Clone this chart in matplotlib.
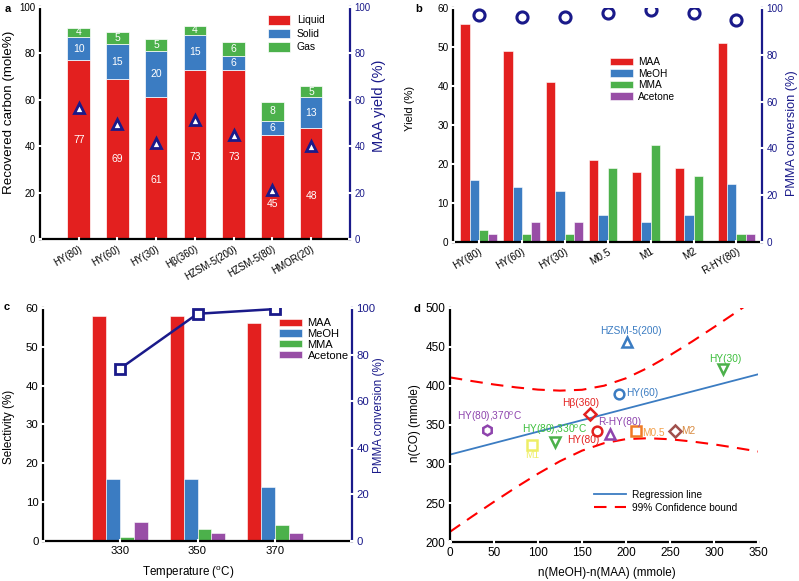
import matplotlib.pyplot as plt
import numpy as np

plt.rcParams['font.family'] = ['Liberation Sans', 'DejaVu Sans']
plt.rcParams['mathtext.default'] = 'regular'

RED = '#e3201f'
BLUE = '#3b7cc2'
GREEN = '#4cb14b'
PURPLE = '#984ea6'
NAVY = '#1a1a8a'

#%% data
# a - recovered carbon / MAA yield
cat_a = ['HY(80)', 'HY(60)', 'HY(30)', 'Hβ(360)', 'HZSM-5(200)', 'HZSM-5(80)', 'HMOR(20)']
liquid = [77, 69, 61, 73, 73, 45, 48]
solid = [10, 15, 20, 15, 6, 6, 13]
gas = [4, 5, 5, 4, 6, 8, 5]
maa_yield = [56.5, 49.5, 41.5, 51.5, 45, 21, 40]
liquid_label_y = [42.5, 34.5, 25.5, 35.5, 35.5, 15, 18.5]

# b - yield / PMMA conversion
cat_b = ['HY(80)', 'HY(60)', 'HY(30)', 'M0.5', 'M1', 'M2', 'R-HY(80)']
maa_b = [56, 49, 41, 21, 18, 19, 51]
meoh_b = [16, 14, 13, 7, 5, 7, 15]
mma_b = [3, 2, 2, 19, 25, 17, 2]
acetone_b = [2, 5, 5, 0, 0, 0, 2]
conv_b = [97, 96, 96, 98, 99, 98, 95]

# c - selectivity vs temperature
temps = ['330', '350', '370']
maa_c = [58, 58, 56]
meoh_c = [16, 16, 14]
mma_c = [1, 3, 4]
acetone_c = [5, 2, 2]
conv_c = [74, 97.5, 99.5]

# d - n(CO) vs n(MeOH)-n(MAA)
pt_names = ['HZSM-5(200)', 'HY(30)', 'HY(60)', 'Hβ(360)', 'HY(80),370$^{o}$C',
            'HY(80),330$^{o}$C', 'HY(80)', 'R-HY(80)', 'M0.5', 'M2', 'M1']
pt_x = [201, 310, 192, 159, 42, 119, 167, 182, 211, 255, 93]
pt_y = [456, 422, 390, 364, 344, 328, 342, 339, 342, 342, 324]
reg_x = [0, 350]
reg_y = [312, 415]
bound_x = [0, 25, 50, 75, 100, 125, 150, 175, 200, 225, 250, 275, 300, 325, 350]
bound_up = [411, 406.3, 401.9, 398.2, 395.3, 394.0, 395.1, 400.3, 409.9, 423.4, 439.5, 457.0, 475.5, 494.5, 514]
bound_lo = [213, 232.5, 251.5, 270.0, 287.5, 303.6, 317.1, 326.7, 331.9, 333.0, 331.7, 328.8, 325.1, 320.7, 316]

#%% helpers
def style(ax, right=None, fs=7.2):
    ax.set_axisbelow(False)
    for s in ['top', 'right']:
        ax.spines[s].set_visible(False)
    for s in ['left', 'bottom']:
        ax.spines[s].set_linewidth(1.6)
    ax.tick_params(direction='inout', length=2.5, width=1.5, color='white', labelsize=fs, pad=2)
    if right is not None:
        right.set_axisbelow(False)
        for s in ['top', 'left', 'bottom']:
            right.spines[s].set_visible(False)
        right.spines['right'].set_color(NAVY)
        right.spines['right'].set_linewidth(1.6)
        right.tick_params(direction='inout', length=2.5, width=1.5, color='white',
                          labelsize=fs, labelcolor=NAVY, pad=2)

def leg(ax, x, y, fs, hl, hh, ls, pad=0.55):
    ax.legend(loc='upper left', bbox_to_anchor=(x / 799, 1 - y / 581), bbox_transform=fig.transFigure,
              frameon=False, fontsize=fs, handlelength=hl, handleheight=hh, labelspacing=ls,
              handletextpad=pad, borderpad=0, borderaxespad=0)

fig = plt.figure(figsize=(7.99, 5.81), dpi=100)

#%% a
ax = fig.add_axes([0.050, 0.5886, 0.388, 0.3994])
x = np.arange(len(cat_a))
w = 0.58
ax.bar(x, liquid, w, color=RED, edgecolor='white', linewidth=0.5, label='Liquid')
ax.bar(x, solid, w, bottom=liquid, color=BLUE, edgecolor='white', linewidth=0.5, label='Solid')
bot = np.array(liquid) + np.array(solid)
ax.bar(x, gas, w, bottom=bot, color=GREEN, edgecolor='white', linewidth=0.5, label='Gas')
for i in range(len(x)):
    ax.text(x[i], liquid_label_y[i], str(liquid[i]), color='white', ha='center', va='center', fontsize=7.5)
    ax.text(x[i], liquid[i] + solid[i] / 2, str(solid[i]), color='white', ha='center', va='center', fontsize=7.5)
    ax.text(x[i], bot[i] + gas[i] / 2, str(gas[i]), color='white', ha='center', va='center', fontsize=7.5)
ax.set_xlim(-1, 7)
ax.set_ylim(0, 100)
ax.set_xticks(x)
ax.set_xticklabels(cat_a, rotation=30, ha='right', rotation_mode='anchor', fontsize=7.5)
ax.set_ylabel('Recovered carbon (mole%)', fontsize=9.6)
ax.yaxis.set_label_coords(-0.081, 0.547)
leg(ax, 268, 15, 7.5, 2.1, 1.05, 0.3, 0.65)
ax2 = ax.twinx()
ax2.plot(x, maa_yield, '^', ms=7, mfc='white', mec=NAVY, mew=2)
ax2.set_ylim(0, 100)
ax2.set_ylabel('MAA yield (%)', color=NAVY, fontsize=10.5)
ax2.yaxis.set_label_coords(1.071, 0.573)
style(ax, ax2, fs=7)
fig.text(5 / 799, 1 - 9 / 581, 'a', fontsize=8, fontweight='bold', va='center')

#%% b
ax = fig.add_axes([0.567, 0.5835, 0.387, 0.4025])
x = np.arange(len(cat_b))
w = 0.215
ax.bar(x - 1.5 * w, maa_b, w, color=RED, edgecolor='white', linewidth=0.4, label='MAA')
ax.bar(x - 0.5 * w, meoh_b, w, color=BLUE, edgecolor='white', linewidth=0.4, label='MeOH')
ax.bar(x + 0.5 * w, mma_b, w, color=GREEN, edgecolor='white', linewidth=0.4, label='MMA')
ax.bar(x + 1.5 * w, acetone_b, w, color=PURPLE, edgecolor='white', linewidth=0.4, label='Acetone')
ax.set_xlim(-0.6, 6.6)
ax.set_ylim(0, 60)
ax.set_xticks(x)
ax.set_xticklabels(cat_b, rotation=30, ha='right', rotation_mode='anchor', fontsize=7.3)
ax.set_ylabel('Yield (%)', fontsize=8)
ax.yaxis.set_label_coords(-0.123, 0.573)
leg(ax, 610, 57, 7.3, 2.3, 0.7, 0.15, 0.5)
ax2 = ax.twinx()
ax2.plot(x, conv_b, 'o', ms=8, mfc='none', mec=NAVY, mew=2.2)
ax2.set_ylim(0, 100)
ax2.set_ylabel('PMMA conversion (%)', color=NAVY, fontsize=9.2)
ax2.yaxis.set_label_coords(1.078, 0.466)
style(ax, ax2, fs=7.2)
fig.text(415 / 799, 1 - 9 / 581, 'b', fontsize=8, fontweight='bold', va='center')

#%% c
ax = fig.add_axes([0.0538, 0.0688, 0.3868, 0.4012])
x = np.arange(len(temps))
w = 0.18
ax.bar(x - 1.5 * w, maa_c, w, color=RED, edgecolor='white', linewidth=0.4, label='MAA')
ax.bar(x - 0.5 * w, meoh_c, w, color=BLUE, edgecolor='white', linewidth=0.4, label='MeOH')
ax.bar(x + 0.5 * w, mma_c, w, color=GREEN, edgecolor='white', linewidth=0.4, label='MMA')
ax.bar(x + 1.5 * w, acetone_c, w, color=PURPLE, edgecolor='white', linewidth=0.4, label='Acetone')
ax.set_xlim(-1, 3)
ax.set_ylim(0, 60)
ax.set_xticks(x)
ax.set_xticklabels(temps)
ax.set_xlabel('Temperature ($^{o}$C)', fontsize=8.4)
ax.xaxis.set_label_coords(0.47, -0.098)
ax.set_ylabel('Selectivity (%)', fontsize=8.4)
ax.yaxis.set_label_coords(-0.091, 0.49)
leg(ax, 279, 318, 8, 2.07, 0.6, 0.08, 0.5)
ax2 = ax.twinx()
ax2.plot(x, conv_c, '-s', color=NAVY, lw=1.8, ms=7, mfc='white', mec=NAVY, mew=2)
ax2.set_ylim(0, 100)
ax2.set_ylabel('PMMA conversion (%)', color=NAVY, fontsize=8.4)
ax2.yaxis.set_label_coords(1.068, 0.54)
style(ax, ax2, fs=8.2)
fig.text(4 / 799, 1 - 307 / 581, 'c', fontsize=8, fontweight='bold', va='center')

#%% d
ax = fig.add_axes([0.563, 0.0671, 0.386, 0.4029])
ax.plot(reg_x, reg_y, color=BLUE, lw=1.3, label='Regression line')
ax.plot(bound_x, bound_up, color='red', lw=1.5, dashes=(6, 4), label='99% Confidence bound')
ax.plot(bound_x, bound_lo, color='red', lw=1.5, dashes=(6, 4))

marks = ['^', 'v', 'o', 'D', 'h', 'v', 'o', '^', 's', 'D', 's']
mcols = [BLUE, GREEN, BLUE, RED, '#8e44ad', GREEN, RED, '#8e44ad', '#f07a25', '#a0504c', '#eeee66']
tcols = [BLUE, '#3cbf3c', BLUE, RED, '#8e44ad', '#3cbf3c', RED, '#8e44ad', '#f3a04a', '#d88a40', '#eeee66']
# label offsets in data units (dx, dy) and alignment
offs = [(5, 14, 'center'), (2, 12, 'center'), (8, 1, 'left'), (-11, 14, 'center'), (3, 16, 'center'),
        (0, 16, 'center'), (-16, -11, 'center'), (11, 15, 'center'), (7, -2, 'left'), (8, 0, 'left'),
        (0, -13, 'center')]
for i in range(len(pt_x)):
    ax.plot(pt_x[i], pt_y[i], marks[i], ms=7 if marks[i] != 'D' else 6, mfc='none',
            mec=mcols[i], mew=1.8)
    dx, dy, ha = offs[i]
    ax.text(pt_x[i] + dx, pt_y[i] + dy, pt_names[i], color=tcols[i], ha=ha, va='center', fontsize=7.3)
ax.set_xlim(0, 350)
ax.set_ylim(200, 500)
ax.set_xticks(np.arange(0, 351, 50))
ax.set_yticks(np.arange(200, 501, 50))
ax.set_xlabel('n(MeOH)-n(MAA) (mmole)', fontsize=8.4)
ax.xaxis.set_label_coords(0.51, -0.105)
ax.set_ylabel('n(CO) (mmole)', fontsize=8.4)
ax.yaxis.set_label_coords(-0.094, 0.51)
leg(ax, 594, 490, 7.3, 3.2, 0.7, 0.3, 0.5)
style(ax, fs=8.5)
fig.text(413 / 799, 1 - 309 / 581, 'd', fontsize=8, fontweight='bold', va='center')

plt.savefig('out.png', dpi=100)
